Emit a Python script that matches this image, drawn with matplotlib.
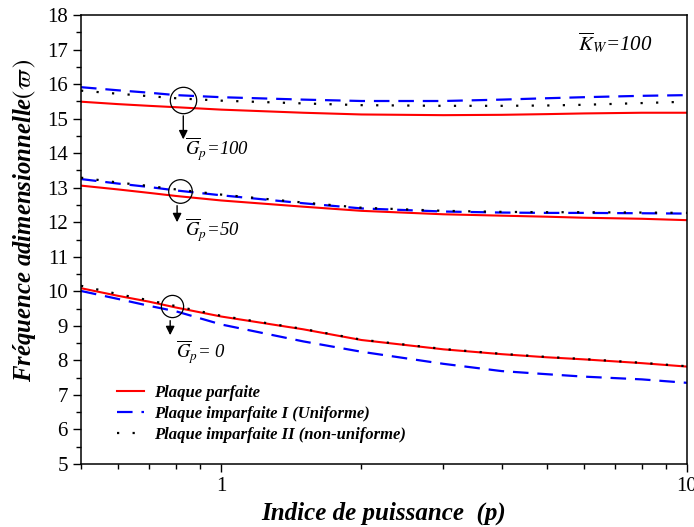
import numpy as np
import matplotlib
matplotlib.use('Agg')
from matplotlib import pyplot as plt
from matplotlib.ticker import FixedLocator, NullFormatter, FixedFormatter, MultipleLocator

plt.rcParams['font.family'] = ['Liberation Serif', 'DejaVu Serif']
plt.rcParams['mathtext.fontset'] = 'stix'

# power index p
p = [0.5, 0.6, 0.7, 0.8, 1.0, 1.5, 2.0, 3.0, 4.0, 5.0, 6.0, 8.0, 10.0]

# Gp = 100
perf_100 = [15.49, 15.42, 15.37, 15.33, 15.26, 15.17, 15.12, 15.10, 15.11, 15.13, 15.15, 15.17, 15.17]
unif_100 = [15.91, 15.82, 15.75, 15.68, 15.62, 15.55, 15.51, 15.51, 15.55, 15.59, 15.62, 15.66, 15.68]
nonu_100 = [15.81, 15.72, 15.65, 15.59, 15.52, 15.44, 15.39, 15.37, 15.37, 15.38, 15.40, 15.45, 15.49]

# Gp = 50
perf_50 = [13.06, 12.95, 12.85, 12.76, 12.63, 12.45, 12.33, 12.23, 12.19, 12.16, 12.13, 12.10, 12.06]
unif_50 = [13.25, 13.12, 13.02, 12.92, 12.78, 12.55, 12.40, 12.31, 12.28, 12.27, 12.27, 12.26, 12.25]
nonu_50 = [13.29, 13.15, 13.05, 12.95, 12.80, 12.57, 12.42, 12.33, 12.30, 12.29, 12.29, 12.28, 12.27]

# Gp = 0
perf_0 = [10.09, 9.87, 9.70, 9.53, 9.27, 8.90, 8.59, 8.32, 8.18, 8.09, 8.03, 7.92, 7.82]
unif_0 = [10.01, 9.78, 9.58, 9.42, 9.04, 8.55, 8.25, 7.90, 7.69, 7.60, 7.53, 7.45, 7.35]
nonu_0 = [10.16, 9.92, 9.74, 9.57, 9.29, 8.91, 8.60, 8.33, 8.19, 8.10, 8.04, 7.93, 7.83]

labels = ['Plaque parfaite', 'Plaque imparfaite I (Uniforme)', 'Plaque imparfaite II (non-uniforme)']

# circle markers / arrows / annotation text
circ_p = [0.829, 0.817, 0.785]
circ_w = [15.54, 12.91, 9.58]
circ_ms = [19, 17, 16]
arr_p = [0.829, 0.804, 0.777]
arr_y0 = [15.16, 12.56, 9.23]
arr_y1 = [14.32, 11.92, 8.65]
txt_p = [0.835, 0.835, 0.800]
txt_y = [14.12, 11.78, 8.25]
txt_s = [r'$\overline{G}_p$=100', r'$\overline{G}_p$=50', r'$\overline{G}_p$= 0']

fig = plt.figure(figsize=(6.94, 5.27), dpi=100)
ax = fig.add_axes([81/694, 63/527, 606/694, 449/527])

dash = (0, (7, 4))
dot = (0, (1, 6))
for perf, unif, nonu in [(perf_100, unif_100, nonu_100), (perf_50, unif_50, nonu_50), (perf_0, unif_0, nonu_0)]:
    ax.plot(p, perf, color='red', lw=1.5, label=labels[0])
    ax.plot(p, unif, color='blue', lw=1.6, linestyle=dash, label=labels[1])
    ax.plot(p, nonu, color='black', lw=1.6, linestyle=dot, label=labels[2])

for i in range(3):
    ax.plot(circ_p[i], circ_w[i], 'o', mfc='none', mec='black', ms=circ_ms[i], mew=0.9)
    ax.annotate('', xy=(arr_p[i], arr_y1[i]), xytext=(arr_p[i], arr_y0[i]),
                arrowprops=dict(arrowstyle='-|>', color='black', lw=1, mutation_scale=13))
    ax.text(txt_p[i], txt_y[i], txt_s[i], fontsize=13.5, style='italic', va='center', ha='left')

ax.text(5.84, 17.19, r'$\overline{K}_W$=100', fontsize=15, style='italic', va='center', ha='left')

ax.set_xscale('log')
ax.set_xlim(0.5, 10)
ax.set_ylim(5, 18)
ax.xaxis.set_major_locator(FixedLocator([1, 10]))
ax.xaxis.set_major_formatter(FixedFormatter(['1', '10']))
ax.xaxis.set_minor_locator(FixedLocator([0.5, 0.6, 0.7, 0.8, 0.9, 2, 3, 4, 5, 6, 7, 8, 9]))
ax.xaxis.set_minor_formatter(NullFormatter())
ax.yaxis.set_major_locator(MultipleLocator(1))
ax.yaxis.set_minor_locator(MultipleLocator(0.5))
ax.tick_params(which='major', length=6, width=1, labelsize=15)
ax.tick_params(which='minor', length=3.5, width=1)
for s in ax.spines.values():
    s.set_linewidth(1.1)

ax.set_xlabel('Indice de puissance  (p)', fontsize=18, fontweight='bold', style='italic', labelpad=4)
ax.set_ylabel(r'Fréquence adimensionnelle$(\varpi\,)$', fontsize=17.8, fontweight='bold', style='italic')
ax.yaxis.set_label_coords(-0.071, 0.543)

h, l = ax.get_legend_handles_labels()
leg = ax.legend(h[:3], l[:3], loc='lower left', bbox_to_anchor=(0.035, 0.013), frameon=False,
                prop={'size': 12, 'weight': 'bold', 'style': 'italic'}, handlelength=1.6,
                labelspacing=0.3, handletextpad=0.6)

fig.savefig('out.png', dpi=100)
